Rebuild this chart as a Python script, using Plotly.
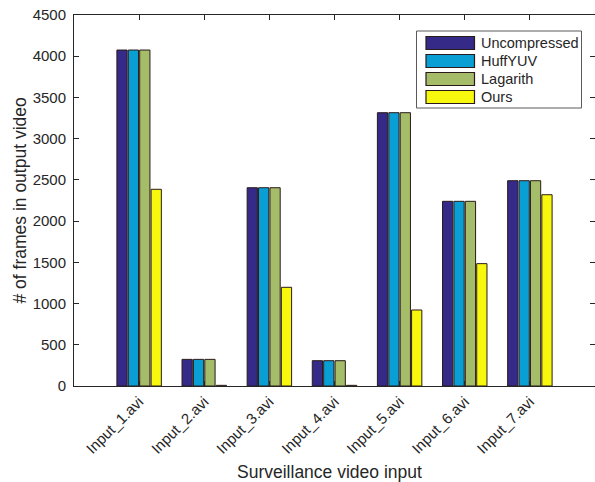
import plotly.graph_objects as go

categories = ["Input_1.avi", "Input_2.avi", "Input_3.avi", "Input_4.avi",
              "Input_5.avi", "Input_6.avi", "Input_7.avi"]
series_names = ["Uncompressed", "HuffYUV", "Lagarith", "Ours"]
uncompressed = [4075, 323, 2405, 307, 3315, 2240, 2490]
huffyuv = [4075, 323, 2405, 307, 3315, 2240, 2490]
lagarith = [4075, 323, 2405, 307, 3315, 2240, 2490]
ours = [2386, 8, 1197, 8, 922, 1484, 2320]
y_ticks = [0, 500, 1000, 1500, 2000, 2500, 3000, 3500, 4000, 4500]
x_title = "Surveillance video input"
y_title = "# of frames in output video"

colors = ["#352A87", "#0A9FD4", "#A5BD69", "#F8F80E"]
edge = "#2a1a1a"
txt = "#262626"
font_family = "Liberation Sans, Arial, Helvetica, sans-serif"

W, H = 595, 482
# plot area in screen pixels: x 74..595, y 15..386
ML, MR, MT, MB = 74, 0, 15, 482 - 386
PW = W - ML - MR
PH = H - MT - MB

x_pos = list(range(1, len(categories) + 1))
fig = go.Figure()
for name, vals, c in zip(series_names, [uncompressed, huffyuv, lagarith, ours], colors):
    fig.add_trace(go.Bar(x=x_pos, y=vals, name=name, marker=dict(color=c, line=dict(color=edge, width=1)),
                         showlegend=False))


def px_x(p):
    return (p - ML) / PW


def px_y(p):
    return (H - MB - p) / PH


shapes = []
annotations = []
# legend box
shapes.append(dict(type="rect", xref="paper", yref="paper",
                   x0=px_x(416.5), x1=px_x(581.5), y0=px_y(108), y1=px_y(31),
                   line=dict(color="#5a5a5a", width=1), fillcolor="white", layer="above"))
for i, (name, c) in enumerate(zip(series_names, colors)):
    top = 36.5 + 18 * i
    shapes.append(dict(type="rect", xref="paper", yref="paper",
                       x0=px_x(426), x1=px_x(474.5), y0=px_y(top + 13), y1=px_y(top),
                       line=dict(color=edge, width=1.2), fillcolor=c, layer="above"))
    annotations.append(dict(text=name, xref="paper", yref="paper", x=px_x(478.5), y=px_y(top + 6.8),
                            xanchor="left", yanchor="middle", showarrow=False,
                            font=dict(size=14.5, color=txt, family=font_family)))

# axis titles
annotations.append(dict(text=x_title, xref="paper", yref="paper", x=px_x(329), y=px_y(472),
                        xanchor="center", yanchor="middle", showarrow=False,
                        font=dict(size=17.5, color=txt, family=font_family)))
annotations.append(dict(text=y_title, xref="paper", yref="paper", x=px_x(19.5), y=px_y(201),
                        xanchor="center", yanchor="middle", showarrow=False, textangle=-90,
                        font=dict(size=17.5, color=txt, family=font_family)))

fig.update_layout(
    width=W, height=H,
    margin=dict(l=ML, r=MR, t=MT, b=MB),
    paper_bgcolor="white", plot_bgcolor="white",
    barmode="group", bargap=0.3, bargroupgap=0.1,
    font=dict(family=font_family, color=txt, size=15),
    shapes=shapes, annotations=annotations,
    xaxis=dict(range=[0, 8], tickvals=x_pos, ticktext=categories, tickangle=-45,
               ticks="inside", ticklen=5, tickcolor=txt, mirror="allticks", automargin=False,
               showline=True, linecolor=txt, linewidth=1, showgrid=False, zeroline=False,
               tickfont=dict(size=15, color=txt)),
    yaxis=dict(range=[0, 4500], tickvals=y_ticks, ticks="inside", ticklen=5, tickcolor=txt,
               mirror="allticks", showline=True, linecolor=txt, linewidth=1, automargin=False,
               ticklabeloverflow="allow", ticklabelstandoff=4,
               showgrid=False, zeroline=False, tickfont=dict(size=15, color=txt)),
)

fig.write_html("out.html", config={"displayModeBar": False},
               post_script="document.body.style.margin='0px';document.body.style.overflow='hidden';")
